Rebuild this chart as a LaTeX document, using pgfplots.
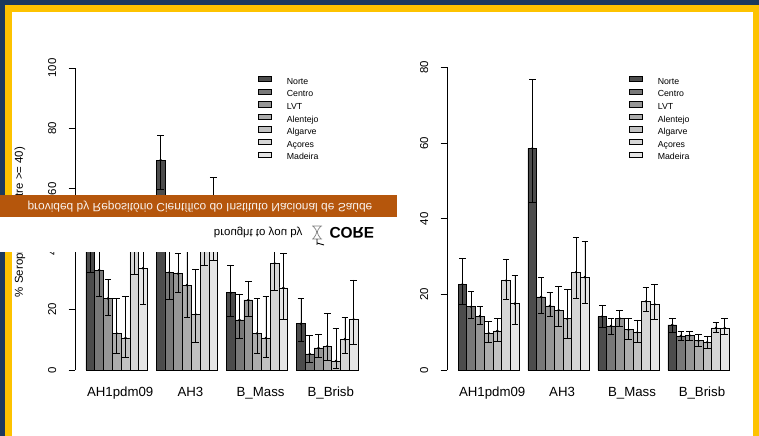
\documentclass[border=0pt]{standalone}
\usepackage{pgfplots}
\pgfplotsset{compat=1.18}
\usepackage{pgfplotstable}
\usepackage{fontspec}
\setmainfont{Liberation Sans}

\definecolor{navy}{HTML}{1B3A5E}
\definecolor{gold}{HTML}{FDC300}
\definecolor{banner}{HTML}{B5560C}
\definecolor{cA}{gray}{0.30}
\definecolor{cB}{gray}{0.47}
\definecolor{cC}{gray}{0.59}
\definecolor{cD}{gray}{0.68}
\definecolor{cE}{gray}{0.76}
\definecolor{cF}{gray}{0.84}
\definecolor{cG}{gray}{0.90}

% Left panel: x  mean  lower  upper   (groups AH1pdm09, AH3, B_Mass, B_Brisb)
\pgfplotstableread[row sep=\\]{x y lo hi\\ 1.5 44 32.5 56\\ 9.5 69.5 59.8 77.6\\ 17.5 25.6 17.9 34.8\\ 25.5 15.3 9.4 23.7\\}\LNo
\pgfplotstableread[row sep=\\]{x y lo hi\\ 2.5 33.1 24.3 42\\ 10.5 32.3 23.5 41.5\\ 18.5 16.6 10.5 25.2\\ 26.5 5.3 2.4 11.5\\}\LCe
\pgfplotstableread[row sep=\\]{x y lo hi\\ 3.5 23.7 18.2 30.1\\ 11.5 31.9 25.7 38.6\\ 19.5 23.2 17.7 29.5\\ 27.5 7.3 4.2 11.7\\}\LLv
\pgfplotstableread[row sep=\\]{x y lo hi\\ 4.5 12.1 5.5 23.7\\ 12.5 28.1 17.5 39.5\\ 20.5 12.1 5.5 23.7\\ 28.5 7.9 3.3 18.8\\}\LAl
\pgfplotstableread[row sep=\\]{x y lo hi\\ 5.5 10.6 4.2 24.3\\ 13.5 18.4 9.2 33.3\\ 21.5 10.6 4.2 24.4\\ 29.5 3.0 0.6 13.7\\}\LAg
\pgfplotstableread[row sep=\\]{x y lo hi\\ 6.5 42 31.7 52\\ 14.5 45 34.8 55\\ 22.5 35.3 26.5 44\\ 30.5 10.2 5.5 17.4\\}\LAc
\pgfplotstableread[row sep=\\]{x y lo hi\\ 7.5 33.7 21.7 45.5\\ 15.5 50 36.4 63.7\\ 23.5 27.2 16.8 38.5\\ 31.5 16.8 8.6 29.8\\}\LMa

% Right panel
\pgfplotstableread[row sep=\\]{x y lo hi\\ 1.5 22.7 17.3 29.5\\ 9.5 58.6 44.3 76.8\\ 17.5 14.2 11.4 17.1\\ 25.5 12.0 10.1 13.6\\}\RNo
\pgfplotstableread[row sep=\\]{x y lo hi\\ 2.5 16.8 13.7 20.9\\ 10.5 19.4 15.1 24.6\\ 18.5 11.7 9.5 13.6\\ 26.5 9.1 8.0 10.2\\}\RCe
\pgfplotstableread[row sep=\\]{x y lo hi\\ 3.5 14.3 12.2 16.8\\ 11.5 17.0 14.2 20.6\\ 19.5 13.7 11.5 15.9\\ 27.5 9.2 8.0 10.2\\}\RLv
\pgfplotstableread[row sep=\\]{x y lo hi\\ 4.5 9.8 7.4 12.9\\ 12.5 15.9 11.5 22.1\\ 20.5 10.7 8.3 13.6\\ 28.5 7.8 6.4 9.5\\}\RAl
\pgfplotstableread[row sep=\\]{x y lo hi\\ 5.5 10.4 7.7 13.6\\ 13.5 13.6 8.5 21.3\\ 21.5 10.0 7.5 13.3\\ 29.5 7.4 5.8 9.1\\}\RAg
\pgfplotstableread[row sep=\\]{x y lo hi\\ 6.5 23.7 18.8 29.4\\ 14.5 25.9 19.0 35.1\\ 22.5 18.2 15.7 21.8\\ 30.5 11.2 9.9 12.7\\}\RAc
\pgfplotstableread[row sep=\\]{x y lo hi\\ 7.5 17.6 12.2 25.1\\ 15.5 24.6 17.7 34.0\\ 23.5 17.4 13.5 22.6\\ 31.5 11.2 9.6 13.6\\}\RMa

\pgfplotsset{
  panel/.style={
    scale only axis, clip=false,
    axis lines*=left,
    x axis line style={draw=none},
    y axis line style={line width=0.6bp, black},
    tick align=outside, major tick length=6.5bp,
    xtick style={draw=none},
    ytick style={line width=0.6bp, black},
    xtick={4.9,12.9,20.9,28.9},
    xticklabels={AH1pdm09,AH3,B\_Mass,B\_Brisb},
    /pgf/number format/assume math mode=true,
    yticklabel style={rotate=90, anchor=center, yshift=16.5bp, font=\fontsize{11.5}{12}\selectfont},
    xticklabel style={anchor=base, yshift=-20.2bp, font=\fontsize{13.3}{14}\selectfont},
    ybar,
    every axis plot/.append style={
      bar width=1, bar shift=0pt,
      draw=black, line width=0.6bp,
      mark=*, mark size=0.9bp, mark options={fill=black, draw=black},
      /pgfplots/error bars/y dir=both,
      /pgfplots/error bars/y explicit,
      /pgfplots/error bars/error bar style={line width=0.6bp, black},
      /pgfplots/error bars/error mark options={rotate=90, mark size=3.3bp, line width=0.6bp, black}
    },
    legend image code/.code={\draw[##1, mark=none] (0bp,0.4bp) rectangle (13bp,5.8bp);},
    legend style={draw=none, fill=none, inner sep=0pt, anchor=north west,
      font=\fontsize{8.8}{10}\selectfont,
      nodes={inner sep=0pt, text height=6.3bp, text depth=1.8bp},
      row sep=2.45bp,
      /tikz/every odd column/.append style={column sep=15bp}},
    legend cell align=left,
  },
  table/errtab/.style={x=x, y=y, y error plus expr=\thisrow{hi}-\thisrow{y}, y error minus expr=\thisrow{y}-\thisrow{lo}},
}

\begin{document}
\begin{tikzpicture}[x=1bp,y=1bp]
\useasboundingbox (0,0) rectangle (759,436);
\fill[navy] (0,0) rectangle (759,436);
\fill[gold] (5,0) rectangle (759,431);
\fill[white] (11.7,0) rectangle (753.3,424.3);

\begin{axis}[panel, at={(75.1bp,66bp)}, anchor=south west,
  width=293.75bp, height=302bp,
  xmin=-0.24, xmax=33.24, ymin=0, ymax=100, ytick={0,20,...,100},
  legend style={at={(0.6227,0.974)}}]
\addplot[fill=cA] table[errtab] {\LNo};
\addplot[fill=cB] table[errtab] {\LCe};
\addplot[fill=cC] table[errtab] {\LLv};
\addplot[fill=cD] table[errtab] {\LAl};
\addplot[fill=cE] table[errtab] {\LAg};
\addplot[fill=cF] table[errtab] {\LAc};
\addplot[fill=cG] table[errtab] {\LMa};
\legend{Norte,Centro,LVT,Alentejo,Algarve,Açores,Madeira}
\end{axis}

\begin{axis}[panel, at={(447.2bp,65.7bp)}, anchor=south west,
  width=292.7bp, height=303bp,
  xmin=-0.24, xmax=33.24, ymin=0, ymax=80, ytick={0,20,...,80},
  legend style={at={(0.621,0.9718)}}]
\addplot[fill=cA] table[errtab] {\RNo};
\addplot[fill=cB] table[errtab] {\RCe};
\addplot[fill=cC] table[errtab] {\RLv};
\addplot[fill=cD] table[errtab] {\RAl};
\addplot[fill=cE] table[errtab] {\RAg};
\addplot[fill=cF] table[errtab] {\RAc};
\addplot[fill=cG] table[errtab] {\RMa};
\legend{Norte,Centro,LVT,Alentejo,Algarve,Açores,Madeira}
\end{axis}

\node[rotate=90, font=\fontsize{11.5}{12}\selectfont] at (20,214) {\% Seroprotection (titre >= 40)};

% CORE banner overlay
\fill[white] (0,183.5) rectangle (397,218.5);
\fill[banner] (0,218.5) rectangle (397,241);
\node[transform shape, yscale=-1, text=white!92!banner, font=\fontsize{12}{13}\selectfont] at (200,229.5) {provided by Repositório Científico do Instituto Nacional de Saúde};
\node[transform shape, yscale=-1, font=\fontsize{11.5}{12}\selectfont, anchor=east] at (306,203.5) {brought to you by};
\node[transform shape, yscale=-1, font=\bfseries\fontsize{15.5}{16}\selectfont, anchor=west] at (326,203) {CORE};
\draw[gray, line width=0.7bp] (312,210) -- (322,210) (313,210) .. controls (318,204) .. (313,197) (321,210) .. controls (316,204) .. (321,197) (312,197) -- (322,197);
\draw[black, line width=0.9bp] (317,197) -- (317,191) (317,193) -- (324,191);
\end{tikzpicture}
\end{document}
